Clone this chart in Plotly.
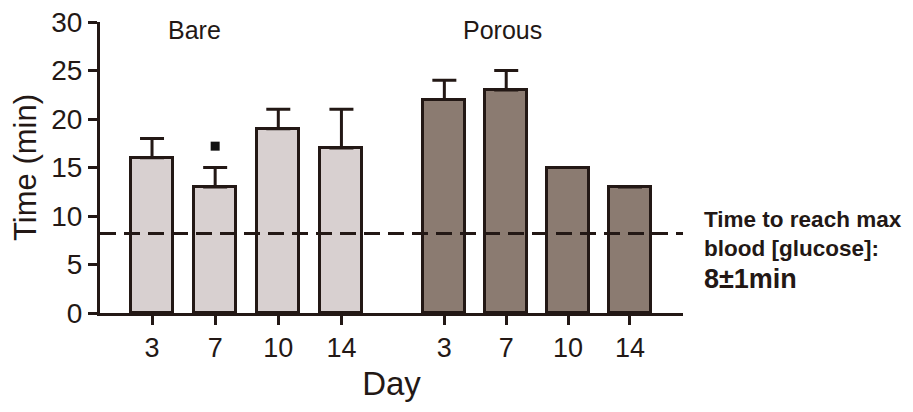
import plotly.graph_objects as go

# ---- data ----
days = ["3", "7", "10", "14"]
bare_vals = [16, 13, 19, 17]
bare_err = [2, 2, 2, 4]
porous_vals = [22, 23, 15, 13]
porous_err = [2, 2, None, None]
threshold = 8.2
sig_day_index = [1]
sig_y = [17.2]

# ---- layout positions (numeric x slots) ----
bare_x = [1, 2, 3, 4]
porous_x = [5.63, 6.61, 7.59, 8.57]

ink = "#231815"
font = "Liberation Sans, Arial, Helvetica, sans-serif"

fig = go.Figure()
fig.add_trace(go.Bar(
    x=bare_x, y=bare_vals, width=0.665,
    marker=dict(color="#d8d0d0", line=dict(color=ink, width=3)),
    error_y=dict(type="data", array=bare_err, arrayminus=[0]*4, symmetric=False,
                 color=ink, thickness=3, width=12),
    showlegend=False, hoverinfo="skip"))
fig.add_trace(go.Bar(
    x=porous_x, y=porous_vals, width=0.665,
    marker=dict(color="#8b7b71", line=dict(color=ink, width=3)),
    error_y=dict(type="data", array=porous_err, arrayminus=[0]*4, symmetric=False,
                 color=ink, thickness=3, width=12),
    showlegend=False, hoverinfo="skip"))
fig.add_trace(go.Scatter(
    x=[bare_x[i] for i in sig_day_index], y=sig_y, mode="markers",
    marker=dict(symbol="square", size=9, color="#111"),
    showlegend=False, hoverinfo="skip", cliponaxis=False))

fig.add_shape(type="line", xref="paper", yref="y", x0=0.0, x1=1.0,
              y0=threshold, y1=threshold,
              line=dict(color=ink, width=3, dash="16px,8px"), layer="above")

fig.add_annotation(x=1.68, y=29.2, text="Bare", showarrow=False,
                   font=dict(size=25, color=ink, family=font))
fig.add_annotation(x=6.55, y=29.2, text="Porous", showarrow=False,
                   font=dict(size=25, color=ink, family=font))

lines = [("Time to reach max", 0.321, 22.5), ("blood [glucose]:", 0.222, 22.5),
         ("8\u00b11min", 0.118, 27)]
for txt, yy, sz in lines:
    fig.add_annotation(xref="paper", yref="paper", x=1.032, y=yy, text="<b>" + txt + "</b>",
                       showarrow=False, xanchor="left", yanchor="middle",
                       font=dict(size=sz, color=ink, family=font))

# page body has an 8px default margin, so the figure is offset by 8px
fig.update_layout(
    width=905, height=404,
    margin=dict(l=92, r=230, t=14, b=99),
    plot_bgcolor="white", paper_bgcolor="white",
    bargap=0,
    font=dict(family=font, color=ink),
    xaxis=dict(range=[0.176, 9.41], tickvals=bare_x + porous_x, ticktext=days + days,
               automargin=False, ticklabeloverflow="allow",
               showline=True, linecolor=ink, linewidth=3, ticks="outside",
               ticklen=9, tickwidth=3, tickcolor=ink, showgrid=False, zeroline=False,
               tickfont=dict(size=27, family=font, color=ink),
               title=dict(text="Day", font=dict(size=33, family=font, color=ink), standoff=10)),
    yaxis=dict(range=[0, 30], tickvals=[0, 5, 10, 15, 20, 25, 30],
               automargin=False, ticklabeloverflow="allow",
               showline=True, linecolor=ink, linewidth=3, ticks="outside",
               ticklen=9, tickwidth=3, tickcolor=ink, showgrid=False, zeroline=False,
               tickfont=dict(size=28, family=font, color=ink),
               title=dict(text="Time (min)", font=dict(size=31, family=font, color=ink), standoff=8)),
)

fig.write_html("out.html")
